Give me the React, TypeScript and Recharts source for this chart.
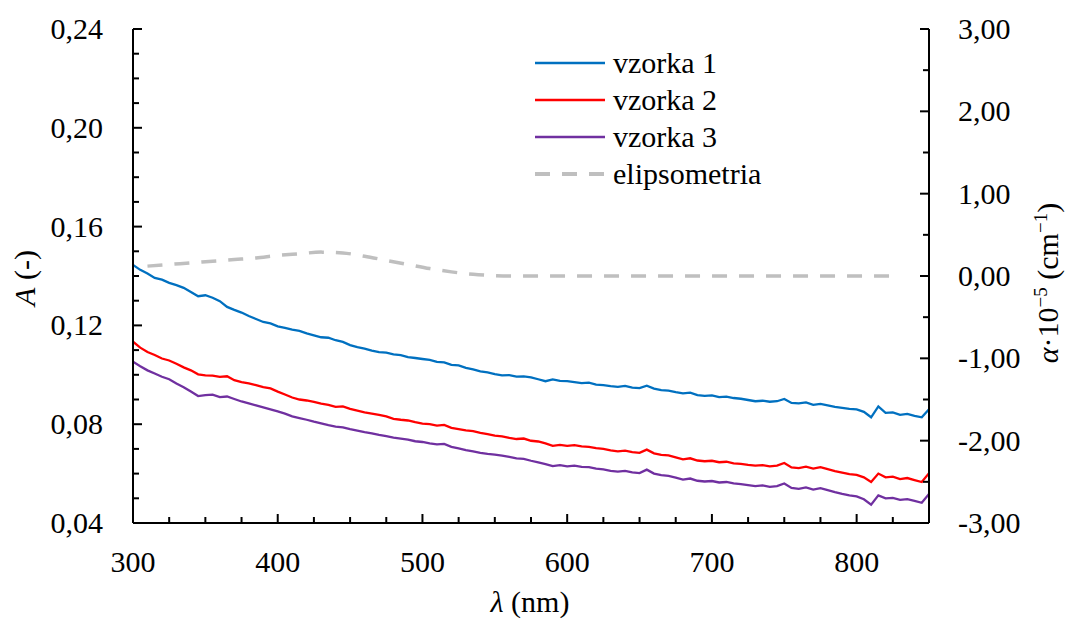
import React from 'react';
import { LineChart, Line, XAxis, YAxis, Legend } from 'recharts';

const lambdaNm = [
  300, 305, 310, 315, 320, 325, 330, 335, 340, 345,
  350, 355, 360, 365, 370, 375, 380, 385, 390, 395,
  400, 405, 410, 415, 420, 425, 430, 435, 440, 445,
  450, 455, 460, 465, 470, 475, 480, 485, 490, 495,
  500, 505, 510, 515, 520, 525, 530, 535, 540, 545,
  550, 555, 560, 565, 570, 575, 580, 585, 590, 595,
  600, 605, 610, 615, 620, 625, 630, 635, 640, 645,
  650, 655, 660, 665, 670, 675, 680, 685, 690, 695,
  700, 705, 710, 715, 720, 725, 730, 735, 740, 745,
  750, 755, 760, 765, 770, 775, 780, 785, 790, 795,
  800, 805, 810, 815, 820, 825, 830, 835, 840, 845,
  850,
];

const vzorka1 = [
  0.1445, 0.1425, 0.1410, 0.1392, 0.1385, 0.1372, 0.1363, 0.1352, 0.1335, 0.1318,
  0.1322, 0.1312, 0.1298, 0.1275, 0.1263, 0.1252, 0.1238, 0.1226, 0.1214, 0.1208,
  0.1196, 0.1190, 0.1183, 0.1178, 0.1168, 0.1160, 0.1152, 0.1150, 0.1140, 0.1133,
  0.1120, 0.1112, 0.1106, 0.1098, 0.1092, 0.1090, 0.1083, 0.1080, 0.1072, 0.1068,
  0.1064, 0.1060, 0.1052, 0.1050, 0.1040, 0.1038, 0.1028, 0.1022, 0.1014, 0.1010,
  0.1003, 0.0998, 0.0999, 0.0993, 0.0994, 0.0990, 0.0982, 0.0974, 0.0981, 0.0975,
  0.0974, 0.0970, 0.0966, 0.0968, 0.0960, 0.0958, 0.0954, 0.0951, 0.0955, 0.0948,
  0.0946, 0.0956, 0.0944, 0.0938, 0.0936, 0.0930, 0.0925, 0.0928, 0.0918, 0.0915,
  0.0917, 0.0910, 0.0912, 0.0906, 0.0903, 0.0898, 0.0893, 0.0895, 0.0891, 0.0893,
  0.0902, 0.0886, 0.0884, 0.0888, 0.0878, 0.0882, 0.0876, 0.0870, 0.0866, 0.0862,
  0.0860, 0.0850, 0.0828, 0.0872, 0.0846, 0.0848, 0.0838, 0.0842, 0.0834, 0.0828,
  0.0860,
];

const vzorka2 = [
  0.1134, 0.1110, 0.1092, 0.1080, 0.1066, 0.1058, 0.1045, 0.1030, 0.1018, 0.1002,
  0.0998, 0.0997, 0.0992, 0.0994, 0.0978, 0.0970, 0.0965, 0.0958, 0.0950, 0.0945,
  0.0932, 0.0920, 0.0908, 0.0900, 0.0896, 0.0890, 0.0883, 0.0878, 0.0870, 0.0872,
  0.0862, 0.0855, 0.0848, 0.0843, 0.0838, 0.0832, 0.0822, 0.0818, 0.0815, 0.0808,
  0.0802, 0.0800, 0.0794, 0.0797, 0.0785, 0.0780, 0.0775, 0.0772, 0.0765, 0.0760,
  0.0754, 0.0751, 0.0745, 0.0740, 0.0742, 0.0733, 0.0730, 0.0722, 0.0712, 0.0716,
  0.0712, 0.0715, 0.0710, 0.0708, 0.0703, 0.0700, 0.0694, 0.0690, 0.0693, 0.0687,
  0.0684, 0.0697, 0.0682, 0.0676, 0.0674, 0.0666, 0.0658, 0.0662, 0.0653, 0.0650,
  0.0652, 0.0646, 0.0648, 0.0641, 0.0639, 0.0635, 0.0632, 0.0634, 0.0629, 0.0632,
  0.0643, 0.0625, 0.0622, 0.0628, 0.0620, 0.0626, 0.0618, 0.0610, 0.0604, 0.0598,
  0.0595, 0.0585, 0.0566, 0.0600, 0.0585, 0.0588, 0.0578, 0.0582, 0.0574, 0.0566,
  0.0602,
];

const vzorka3 = [
  0.1053, 0.1035, 0.1018, 0.1005, 0.0992, 0.0982, 0.0965, 0.0950, 0.0932, 0.0914,
  0.0918, 0.0920, 0.0910, 0.0912, 0.0902, 0.0892, 0.0884, 0.0876, 0.0868, 0.0860,
  0.0852, 0.0843, 0.0832, 0.0825, 0.0818, 0.0810, 0.0803, 0.0796, 0.0790, 0.0787,
  0.0780, 0.0774, 0.0768, 0.0763, 0.0757, 0.0752, 0.0746, 0.0742, 0.0738, 0.0731,
  0.0728, 0.0722, 0.0718, 0.0720, 0.0708, 0.0702, 0.0695, 0.0690, 0.0684, 0.0680,
  0.0677, 0.0673, 0.0668, 0.0662, 0.0660, 0.0652, 0.0645, 0.0638, 0.0630, 0.0634,
  0.0629, 0.0632, 0.0627, 0.0626, 0.0620, 0.0617, 0.0611, 0.0608, 0.0611, 0.0605,
  0.0602, 0.0616, 0.0600, 0.0594, 0.0591, 0.0584, 0.0576, 0.0580, 0.0571, 0.0568,
  0.0570, 0.0564, 0.0566, 0.0560, 0.0557, 0.0553, 0.0549, 0.0552, 0.0546, 0.0549,
  0.0560, 0.0542, 0.0538, 0.0544, 0.0535, 0.0541, 0.0533, 0.0525, 0.0518, 0.0512,
  0.0508, 0.0496, 0.0474, 0.0512, 0.0500, 0.0502, 0.0494, 0.0497, 0.0490, 0.0482,
  0.0518,
];

const lambdaEl = [310, 325, 340, 355, 370, 385, 400, 415, 430, 445, 460, 475, 490, 505, 520, 535, 550, 565, 600, 650, 700, 750, 800, 825];
const alphaEl = [0.12, 0.14, 0.16, 0.18, 0.2, 0.22, 0.25, 0.27, 0.29, 0.28, 0.24, 0.19, 0.14, 0.09, 0.05, 0.02, 0.005, 0, 0, 0, 0, 0, 0, 0];

const xMajorTicks = [300, 400, 500, 600, 700, 800];
const xAllTicks = [300, 325, 350, 375, 400, 425, 450, 475, 500, 525, 550, 575, 600, 625, 650, 675, 700, 725, 750, 775, 800, 825, 850];
const leftMajorTicks = [0.04, 0.08, 0.12, 0.16, 0.2, 0.24];
const leftAllTicks = [0.04, 0.05, 0.06, 0.07, 0.08, 0.09, 0.1, 0.11, 0.12, 0.13, 0.14, 0.15, 0.16, 0.17, 0.18, 0.19, 0.2, 0.21, 0.22, 0.23, 0.24];
const rightMajorTicks = [-3, -2, -1, 0, 1, 2, 3];
const rightAllTicks = [-3, -2.5, -2, -1.5, -1, -0.5, 0, 0.5, 1, 1.5, 2, 2.5, 3];

const seriesNames = ['vzorka 1', 'vzorka 2', 'vzorka 3', 'elipsometria'];
const seriesColors = ['#0070C0', '#FF0000', '#7030A0', '#BFBFBF'];

const rows = lambdaNm.map((l, i) => ({ l, v1: vzorka1[i], v2: vzorka2[i], v3: vzorka3[i] }));
const elRows = lambdaEl.map((l, i) => ({ l, a: alphaEl[i] }));

const FONT = "'Liberation Serif', serif";
const FS = 30;
const MAJ = 9;
const MIN = 6;

const isIn = (arr: number[], v: number) => arr.some((m) => Math.abs(m - v) < 1e-9);

const BottomTick = (props: any) => {
  const { x, y, payload } = props;
  const major = isIn(xMajorTicks, payload.value);
  return (
    <g>
      <line x1={x} x2={x} y1={y} y2={y - (major ? MAJ : MIN)} stroke="#000" strokeWidth={2} />
      {major && (
        <text x={x} y={y + 49} textAnchor="middle" style={{ fontFamily: FONT }} fontSize={FS} fill="#000">
          {payload.value}
        </text>
      )}
    </g>
  );
};

const LeftTick = (props: any) => {
  const { x, y, payload } = props;
  const major = isIn(leftMajorTicks, payload.value);
  return (
    <g>
      <line x1={x} x2={x + (major ? MAJ : MIN)} y1={y} y2={y} stroke="#000" strokeWidth={2} />
      {major && (
        <text x={x - 30} y={y + 10} textAnchor="end" style={{ fontFamily: FONT }} fontSize={FS} fill="#000">
          {payload.value.toFixed(2).replace('.', ',')}
        </text>
      )}
    </g>
  );
};

const RightTick = (props: any) => {
  const { x, y, payload } = props;
  const major = isIn(rightMajorTicks, payload.value);
  return (
    <g>
      <line x1={x} x2={x - (major ? MAJ : MIN)} y1={y} y2={y} stroke="#000" strokeWidth={2} />
      {major && (
        <text x={x + 29} y={y + 10} textAnchor="start" style={{ fontFamily: FONT }} fontSize={FS} fill="#000">
          {payload.value.toFixed(2).replace('.', ',')}
        </text>
      )}
    </g>
  );
};

const LegendContent = () => (
  <div style={{ fontFamily: FONT, fontSize: FS, color: '#000' }}>
    {seriesNames.map((name, i) => (
      <div key={name} style={{ display: 'flex', alignItems: 'center', height: 37 }}>
        <svg width={70} height={6} style={{ marginRight: 8 }}>
          <line
            x1={0}
            x2={70}
            y1={3}
            y2={3}
            stroke={seriesColors[i]}
            strokeWidth={i === 3 ? 4 : 2.5}
            strokeDasharray={i === 3 ? '15 12' : undefined}
          />
        </svg>
        <span style={{ fontFamily: FONT }}>{name}</span>
      </div>
    ))}
  </div>
);

export default function App() {
  return (
    <div style={{ position: 'absolute', left: 0, top: 0, width: 1068, height: 621, background: '#fff', fontFamily: FONT }}>
      <LineChart width={1068} height={621} data={rows} margin={{ top: 29, right: 0, bottom: 0, left: 0 }} style={{ fontFamily: FONT }}>
        <XAxis
          xAxisId="b"
          dataKey="l"
          type="number"
          domain={[300, 850]}
          ticks={xAllTicks}
          interval={0}
          tick={<BottomTick />}
          tickSize={0}
          tickMargin={0}
          height={98}
          axisLine={{ stroke: '#000', strokeWidth: 2 }}
          tickLine={false}
          allowDataOverflow
        />
        <XAxis
          xAxisId="t"
          orientation="top"
          dataKey="l"
          type="number"
          domain={[300, 850]}
          tick={false}
          height={0}
          axisLine={{ stroke: '#000', strokeWidth: 2 }}
          tickLine={false}
        />
        <YAxis
          yAxisId="left"
          domain={[0.04, 0.24]}
          ticks={leftAllTicks}
          interval={0}
          tick={<LeftTick />}
          tickSize={0}
          tickMargin={0}
          width={133}
          axisLine={{ stroke: '#000', strokeWidth: 2 }}
          tickLine={false}
          allowDataOverflow
        />
        <YAxis
          yAxisId="right"
          orientation="right"
          domain={[-3, 3]}
          ticks={rightAllTicks}
          interval={0}
          tick={<RightTick />}
          tickSize={0}
          tickMargin={0}
          width={139}
          axisLine={{ stroke: '#000', strokeWidth: 2 }}
          tickLine={false}
          allowDataOverflow
        />
        <Legend
          layout="vertical"
          align="center"
          verticalAlign="middle"
          content={<LegendContent />}
          wrapperStyle={{ left: 535, top: 44, width: 300, height: 150 }}
        />
        <Line xAxisId="b" yAxisId="right" data={elRows} dataKey="a" type="monotone" stroke={seriesColors[3]} strokeWidth={3.5} strokeDasharray="15 12" dot={false} isAnimationActive={false} />
        <Line xAxisId="b" yAxisId="left" dataKey="v3" type="linear" stroke={seriesColors[2]} strokeWidth={2.3} dot={false} isAnimationActive={false} />
        <Line xAxisId="b" yAxisId="left" dataKey="v2" type="linear" stroke={seriesColors[1]} strokeWidth={2.3} dot={false} isAnimationActive={false} />
        <Line xAxisId="b" yAxisId="left" dataKey="v1" type="linear" stroke={seriesColors[0]} strokeWidth={2.3} dot={false} isAnimationActive={false} />
        <text x={530} y={612} textAnchor="middle" style={{ fontFamily: FONT }} fontSize={FS} fill="#000">
          <tspan fontStyle="italic">λ</tspan> (nm)
        </text>
        <text x={35} y={278} textAnchor="middle" style={{ fontFamily: FONT }} fontSize={FS} fill="#000" transform="rotate(-90, 35, 278)">
          <tspan fontStyle="italic">A</tspan> (-)
        </text>
        <text x={1058} y={283} textAnchor="middle" style={{ fontFamily: FONT }} fontSize={FS} fill="#000" transform="rotate(-90, 1058, 283)">
          <tspan fontStyle="italic">α</tspan>·10<tspan fontSize={19} dy={-11}>−5</tspan>
          <tspan dy={11}> (cm</tspan><tspan fontSize={19} dy={-11}>−1</tspan><tspan dy={11}>)</tspan>
        </text>
      </LineChart>
    </div>
  );
}
